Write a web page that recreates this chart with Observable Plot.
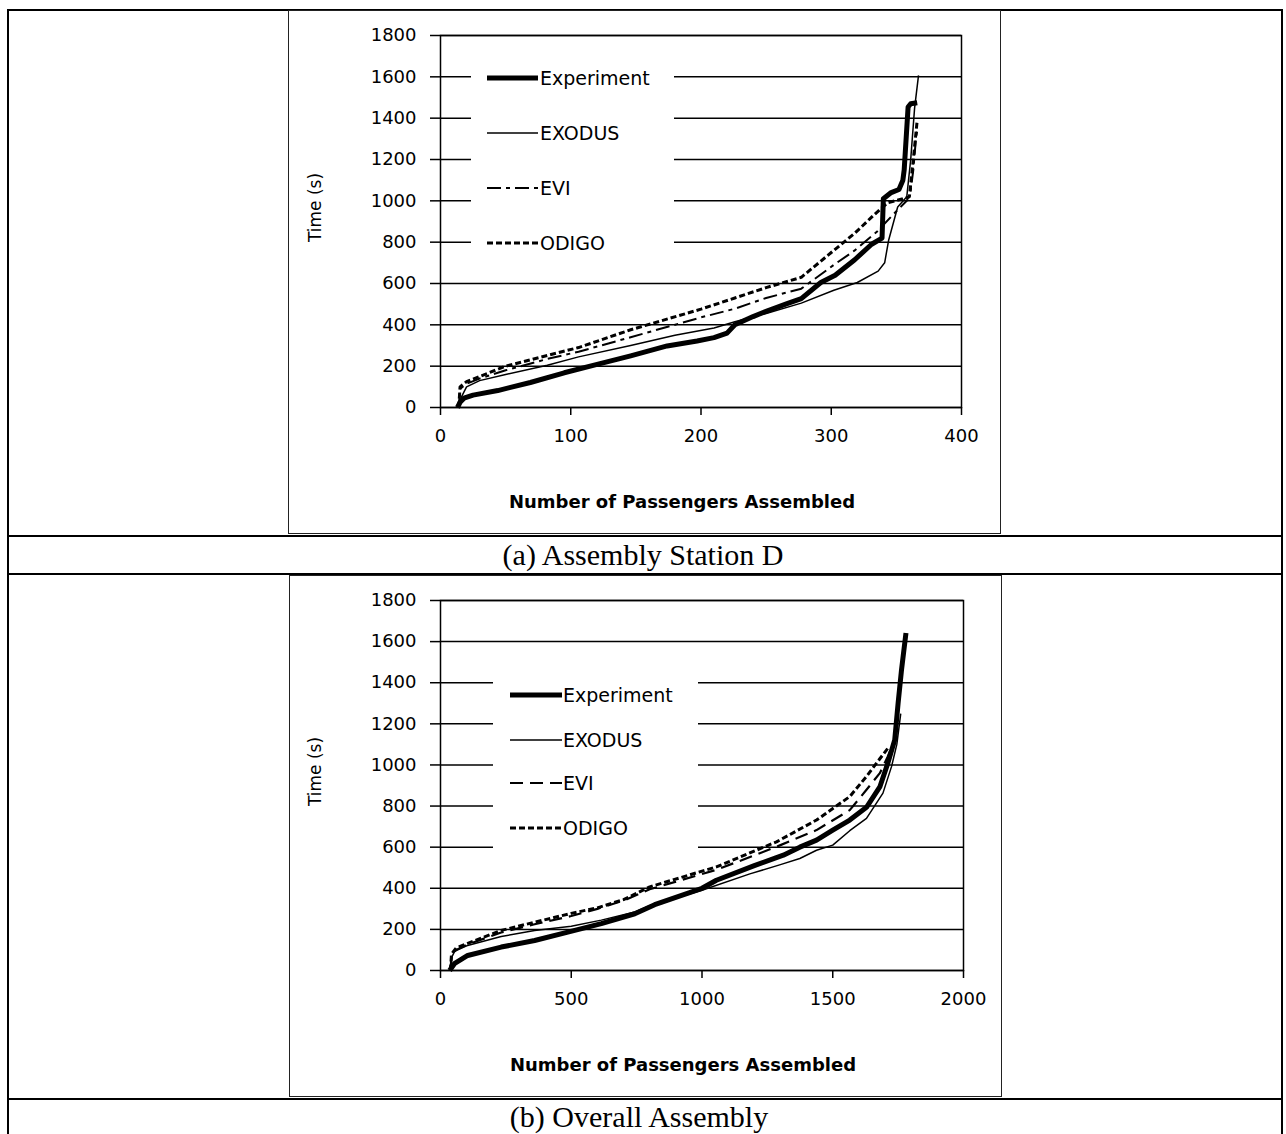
<!DOCTYPE html>
<html>
<head>
<meta charset="utf-8">
<script src="https://cdn.jsdelivr.net/npm/d3@7"></script>
<script src="https://cdn.jsdelivr.net/npm/@observablehq/plot@0.6"></script>
<style>
  body { margin: 0; background: #fff; }
  #page { position: relative; width: 1286px; height: 1134px; overflow: hidden; background: #fff; }
  .hl { position: absolute; height: 0; border-top: 2px solid #000; }
  .vl { position: absolute; width: 0; border-left: 2px solid #000; }
  .box { position: absolute; border: 1.5px solid #222; box-sizing: border-box; }
  .cap { position: absolute; font-family: "Liberation Serif", "Times New Roman", serif; color: #000; white-space: nowrap; line-height: 1; transform: translate(-50%, -50%); }
</style>
</head>
<body>
<div id="page"></div>
<script>
// ---------------- data ----------------
const seriesNames = ["Experiment", "EXODUS", "EVI", "ODIGO"];
const timeTicks = [0, 200, 400, 600, 800, 1000, 1200, 1400, 1600, 1800];
const stationDTicks = [0, 100, 200, 300, 400];
const overallTicks = [0, 500, 1000, 1500, 2000];
const captions = ["(a) Assembly Station D", "(b) Overall Assembly"];
const xTitle = "Number of Passengers Assembled";
const yTitle = "Time (s)";

// (a) Assembly Station D : [passengers, time]
const stationD_Experiment = [[13,0],[15,25],[18,45],[25,60],[44,82],[69,121],[95,168],[121,210],[146,250],[174,298],[197,322],[210,338],[220,360],[226,400],[240,440],[251,468],[265,500],[277,527],[292,605],[303,640],[318,715],[331,790],[339,820],[340,1010],[346,1040],[352,1055],[355,1100],[356,1150],[359,1454],[361,1470],[366,1475]];
const stationD_EXODUS = [[14,0],[16,50],[20,100],[30,130],[50,160],[82,204],[106,245],[146,300],[180,350],[210,385],[226,415],[250,455],[277,505],[302,567],[320,605],[336,660],[341,700],[344,808],[351,970],[358,1020],[361,1200],[364,1450],[367,1607]];
const stationD_EVI = [[14,0],[15,90],[20,115],[30,140],[50,180],[82,235],[106,270],[146,340],[200,436],[226,478],[250,530],[277,575],[302,690],[318,760],[335,850],[350,950],[358,1000],[361,1050],[363,1150],[365,1300],[366,1340]];
const stationD_ODIGO = [[14,0],[15,100],[20,125],[30,150],[50,200],[82,252],[106,290],[146,376],[200,476],[226,530],[250,580],[277,630],[300,750],[318,843],[331,921],[343,990],[355,1010],[360,1020],[363,1200],[366,1390]];

// (b) Overall Assembly : [passengers, time]
const overall_Experiment = [[35,0],[53,33],[104,73],[232,114],[360,146],[487,187],[615,228],[743,276],[819,320],[1000,400],[1055,439],[1200,510],[1311,561],[1374,600],[1438,634],[1500,683],[1565,732],[1629,794],[1680,893],[1711,1010],[1737,1122],[1750,1301],[1763,1463],[1780,1642]];
const overall_EXODUS = [[35,0],[45,70],[55,95],[100,120],[232,165],[360,195],[500,215],[615,245],[743,285],[800,315],[1000,390],[1183,470],[1300,515],[1374,545],[1438,585],[1500,610],[1565,680],[1629,740],[1692,863],[1725,993],[1745,1100],[1760,1250]];
const overall_EVI = [[38,0],[42,70],[60,100],[100,125],[232,185],[360,225],[500,265],[600,300],[700,340],[800,395],[1055,490],[1200,560],[1300,610],[1438,683],[1565,780],[1629,879],[1680,960],[1710,1040],[1730,1100]];
const overall_ODIGO = [[38,0],[42,80],[60,110],[100,130],[232,195],[360,235],[500,278],[600,305],[700,345],[800,407],[1055,504],[1285,626],[1438,732],[1565,846],[1629,944],[1680,1030],[1710,1080]];

// ---------------- styles ----------------
const FONT = "'DejaVu Sans', 'Liberation Sans', sans-serif";
const lineStyles = {
  a: {
    Experiment: {strokeWidth: 5},
    EXODUS: {strokeWidth: 1.5},
    EVI: {strokeWidth: 2, strokeDasharray: "14,5,4,5"},
    ODIGO: {strokeWidth: 3, strokeDasharray: "6,3"}
  },
  b: {
    Experiment: {strokeWidth: 5},
    EXODUS: {strokeWidth: 1.5},
    EVI: {strokeWidth: 2.2, strokeDasharray: "13,7"},
    ODIGO: {strokeWidth: 3, strokeDasharray: "6,3"}
  }
};

function rows(name, pts) { return pts.map(([x, y]) => ({series: name, x, y})); }

function makeChart({width, height, margins, xDomain, xTicks, data, styles}) {
  const lineMarks = seriesNames.map(name =>
    Plot.line(rows(name, data[name]), {
      x: "x", y: "y", stroke: "#000", strokeLinejoin: "round", strokeLinecap: "butt",
      ...styles[name]
    })
  );
  return Plot.plot({
    width, height,
    marginLeft: margins[0], marginRight: margins[1], marginTop: margins[2], marginBottom: margins[3],
    style: {fontFamily: FONT, fontSize: "18px", color: "#000", background: "transparent", overflow: "visible"},
    x: {domain: xDomain},
    y: {domain: [0, 1800]},
    marks: [
      Plot.gridY(timeTicks, {stroke: "#000", strokeOpacity: 1, strokeWidth: 1.5}),
      Plot.frame({stroke: "#000", strokeWidth: 1.5}),
      Plot.axisY(timeTicks, {tickSize: 10, tickPadding: 14, tickFormat: d => String(d), label: null, strokeWidth: 1.5}),
      Plot.axisX(xTicks, {tickSize: 8, tickPadding: 14, tickFormat: d => String(d), label: null, strokeWidth: 1.5}),
      Plot.text([yTitle], {frameAnchor: "left", textAnchor: "middle", rotate: -90, dx: -125, dy: -14, fontSize: 17, fill: "#000"}),
      Plot.text([xTitle], {frameAnchor: "bottom", dy: 100, dx: -19, fontSize: 18, fill: "#000", fontWeight: "bold"}),
      ...lineMarks
    ]
  });
}

// ---------------- page ----------------
const page = document.getElementById("page");
function add(el, left, top) { el.style.position = "absolute"; el.style.left = left + "px"; el.style.top = top + "px"; page.appendChild(el); return el; }
function div(cls, css) { const d = document.createElement("div"); d.className = cls; Object.assign(d.style, css); page.appendChild(d); return d; }

// table lines
div("hl", {left: "7px", top: "9px", width: "1276px"});
div("vl", {left: "7px", top: "9px", height: "1130px"});
div("vl", {left: "1281px", top: "9px", height: "1130px"});
div("hl", {left: "7px", top: "535px", width: "1276px"});
div("hl", {left: "7px", top: "573px", width: "1276px"});
div("hl", {left: "7px", top: "1098px", width: "1276px"});
// chart boxes
div("box", {left: "288px", top: "10px", width: "713px", height: "524px"});
div("box", {left: "289px", top: "575px", width: "713px", height: "522px"});

// captions
div("cap", {left: "643px", top: "555px", fontSize: "30px"}).textContent = captions[0];
div("cap", {left: "639px", top: "1117px", fontSize: "30px"}).textContent = captions[1];

// charts
const chartA = makeChart({
  width: 711, height: 523, margins: [151, 39, 25, 126],
  xDomain: [0, 400], xTicks: stationDTicks,
  data: {Experiment: stationD_Experiment, EXODUS: stationD_EXODUS, EVI: stationD_EVI, ODIGO: stationD_ODIGO},
  styles: lineStyles.a
});
add(chartA, 289, 10);

const chartB = makeChart({
  width: 711, height: 521, margins: [150, 38, 25, 126],
  xDomain: [0, 2000], xTicks: overallTicks,
  data: {Experiment: overall_Experiment, EXODUS: overall_EXODUS, EVI: overall_EVI, ODIGO: overall_ODIGO},
  styles: lineStyles.b
});
add(chartB, 290, 575);

// legends (white boxes over the gridlines, as in the original)
function legend(left, top, w, h, rowYs, x0, x1, tx, styles) {
  const svg = d3.create("svg").attr("width", w).attr("height", h)
    .style("position", "absolute").style("left", left + "px").style("top", top + "px");
  svg.append("rect").attr("width", w).attr("height", h).attr("fill", "#fff");
  seriesNames.forEach((name, i) => {
    const s = styles[name];
    svg.append("line").attr("x1", x0).attr("x2", x1).attr("y1", rowYs[i]).attr("y2", rowYs[i])
      .attr("stroke", "#000").attr("stroke-width", s.strokeWidth)
      .attr("stroke-dasharray", s.strokeDasharray || null);
    svg.append("text").attr("x", tx).attr("y", rowYs[i]).attr("dy", "0.35em")
      .attr("font-family", FONT).attr("font-size", 19).attr("fill", "#000").text(name);
  });
  page.appendChild(svg.node());
}
legend(471, 55, 203, 210, [23, 78, 133, 188], 16, 67, 69, lineStyles.a);
legend(493, 662, 205, 190, [33, 78, 121, 166], 17, 69, 70, lineStyles.b);
</script>
</body>
</html>
